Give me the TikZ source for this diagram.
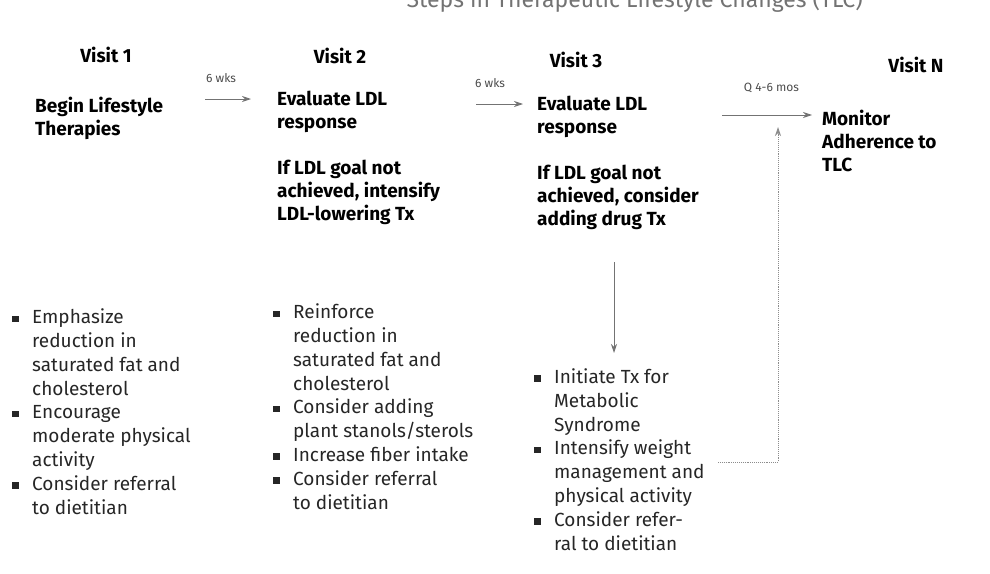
\documentclass[tikz,border=0pt]{standalone}
\usepackage{fontspec}
\setsansfont{Fira Sans}
\usetikzlibrary{arrows.meta,positioning}
\newcommand{\bul}{\makebox[20pt][l]{\rule[1.5pt]{6.5pt}{6.5pt}}}
\newcommand{\ind}{\hspace*{20pt}}

\begin{document}
\begin{tikzpicture}[
  x=1pt, y=-1pt,
  font=\sffamily,
  hd/.style={anchor=base, inner sep=0pt, font=\fontsize{19}{23}\selectfont\bfseries\sffamily},
  txt/.style={anchor=base west, inner sep=0pt, align=left, font=\fontsize{19}{23}\selectfont\bfseries\sffamily},
  lst/.style={anchor=base west, inner sep=0pt, align=left, text=black!85, font=\fontsize{19}{23.8}\selectfont\sffamily},
  flow/.style={-{Stealth[length=9pt, width=6pt]}, line width=0.9pt, black!55},
  back/.style={-{Stealth[length=9pt, width=6pt]}, line width=0.9pt, black!45, densely dotted},
  lbl/.style={inner sep=0pt, font=\fontsize{12}{14}\selectfont\sffamily, text=black!70}
]
\useasboundingbox (0,0) rectangle (990,573);
\clip (0,0) rectangle (990,573);

% title, cut at the top edge
\node[anchor=base east, inner sep=0pt, text=black!55, font=\fontsize{23}{26}\selectfont\sffamily] (ttl) at (863,7) {Steps in Therapeutic Lifestyle Changes (TLC)};

% visit headers
\node[hd] (vis1) at (106,62) {Visit 1};
\node[hd] (vis2) at (340,63) {Visit 2};
\node[hd] (vis3) at (576,67) {Visit 3};
\node[hd] (visn) at (916,72) {Visit N};

% what happens at each visit (anchor = last line)
\node[txt] (beg1) at (35,135) {Begin Lifestyle\\Therapies};
\node[txt] (ev2) at (277,128) {Evaluate LDL\\response};
\node[txt] (if2) at (277,220) {If LDL goal not\\achieved, intensify\\LDL-lowering Tx};
\node[txt] (ev3) at (537,133) {Evaluate LDL\\response};
\node[txt] (if3) at (537,225) {If LDL goal not\\achieved, consider\\adding drug Tx};
\node[txt] (mon) at (822,171) {Monitor\\Adherence to\\TLC};

% bullet lists
\node[lst] (lst1) at (12,514) {\bul Emphasize\\\ind reduction in\\\ind saturated fat and\\\ind cholesterol\\
  \bul Encourage\\\ind moderate physical\\\ind activity\\\bul Consider referral\\\ind to dietitian};
\node[lst] (lst2) at (273,509) {\bul Reinforce\\\ind reduction in\\\ind saturated fat and\\\ind cholesterol\\
  \bul Consider adding\\\ind plant stanols/sterols\\\bul Increase fiber intake\\\bul Consider referral\\\ind to dietitian};
\node[lst] (lst3) at (534,550) {\bul Initiate Tx for\\\ind Metabolic\\\ind Syndrome\\\bul Intensify weight\\
  \ind management and\\\ind physical activity\\\bul Consider refer-\\\ind ral to dietitian};

% arrow ends
\coordinate (a1) at (205,99);  \coordinate (b1) at (251,99);
\coordinate (a2) at (476,104); \coordinate (b2) at (523,104);
\coordinate (a3) at (722,115); \coordinate (b3) at (812,115);
\coordinate (dn0) at (614,262); \coordinate (dn1) at (614,353);
\coordinate (rb) at (718,462); \coordinate (rt) at (778,127);

\draw[flow] (a1) -- node[lbl, above=16pt, pos=0.35] (wk1) {6 wks} (b1);
\draw[flow] (a2) -- node[lbl, above=16pt, pos=0.3] (wk2) {6 wks} (b2);
\draw[flow] (a3) -- node[lbl, above=22pt, pos=0.55] (mos) {Q 4-6 mos} (b3);
\draw[flow] (dn0) -- (dn1);
\draw[back] (rb) -| (rt);

\end{tikzpicture}
\end{document}
